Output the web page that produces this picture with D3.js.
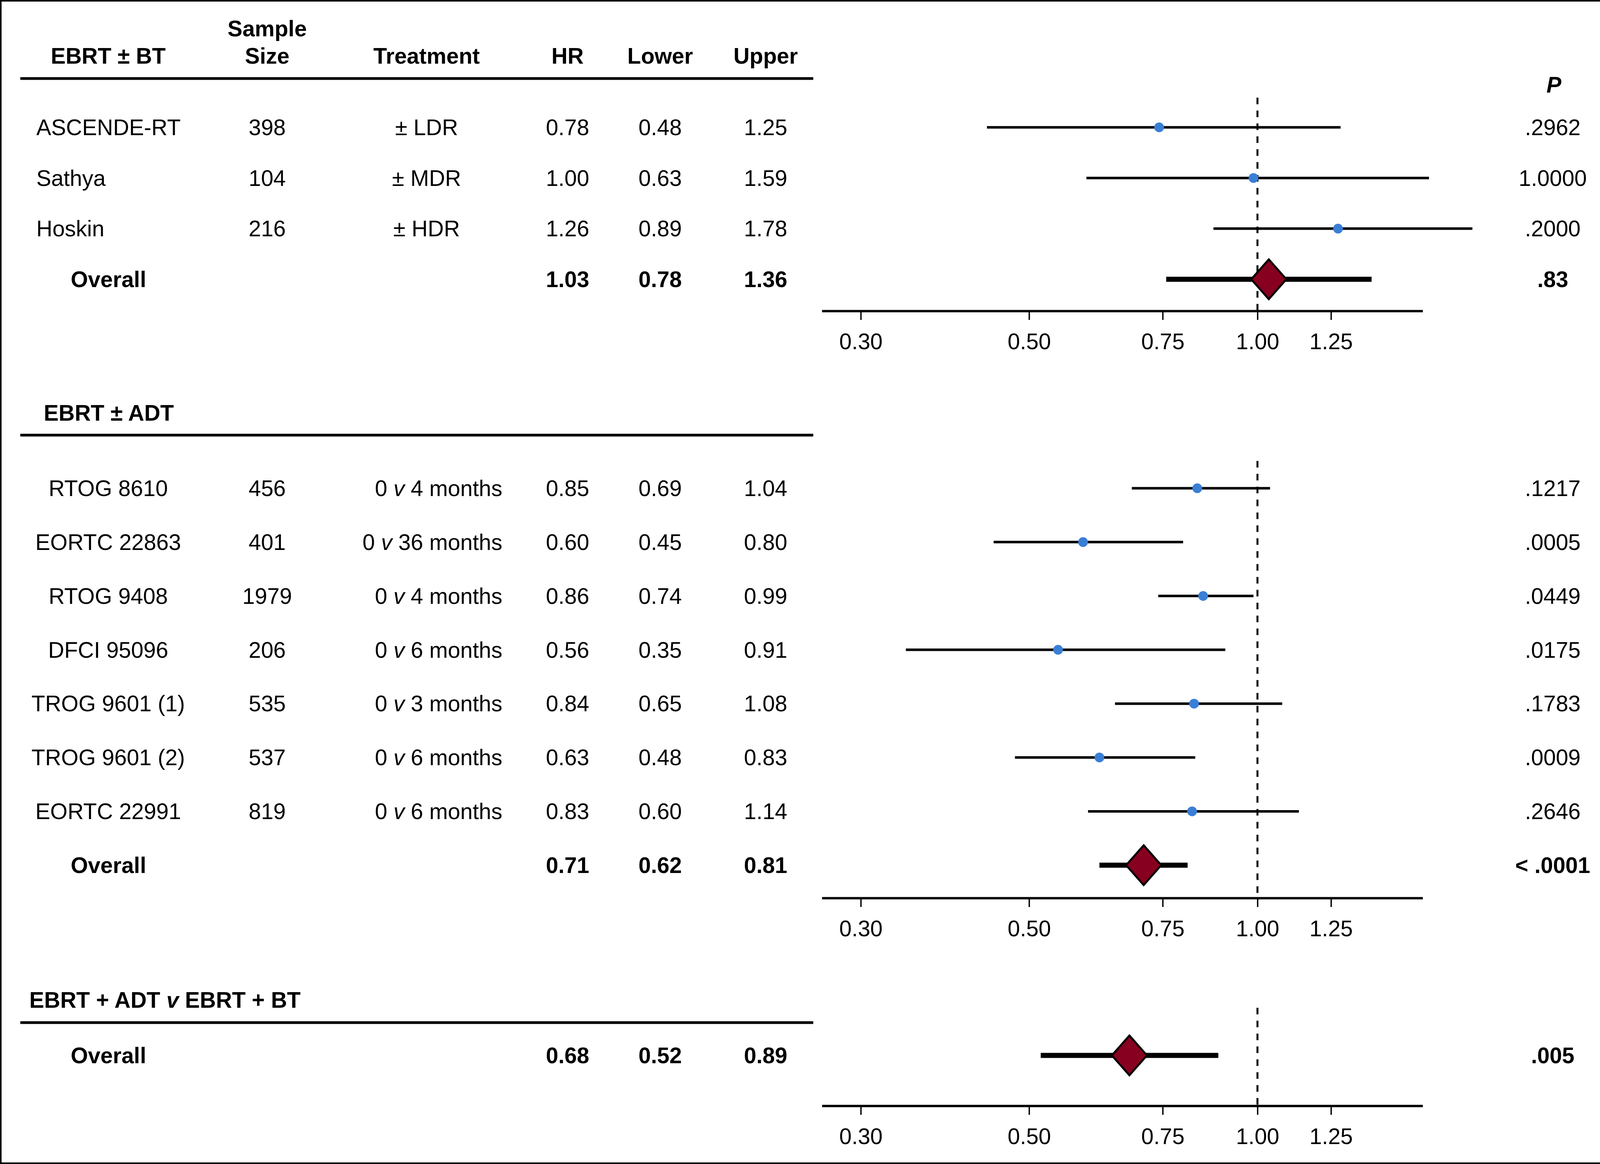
<!DOCTYPE html>
<html>
<head>
<meta charset="utf-8">
<script src="https://cdn.jsdelivr.net/npm/d3@7"></script>
<style>
  html, body { margin: 0; padding: 0; background: #fff; overflow: hidden; }
  #chart-container { width: 4134px; height: 2980px; }
  svg { display: block; }
  svg text { font-family: "Liberation Sans", Arial, Helvetica, sans-serif; fill: #000; }
</style>
</head>
<body>
<div id="chart-container"></div>
<script>
// EBRT ± BT
const btStudies = ["ASCENDE-RT", "Sathya", "Hoskin"];
const btSize = ["398", "104", "216"];
const btTreatment = ["± LDR", "± MDR", "± HDR"];
const btHR = ["0.78", "1.00", "1.26"];
const btLower = ["0.48", "0.63", "0.89"];
const btUpper = ["1.25", "1.59", "1.78"];
const btP = [".2962", "1.0000", ".2000"];
const btOverall = ["1.03", "0.78", "1.36", ".83"];
// where the marks sit in the plot
const btPoint = [0.742, 0.988, 1.277];
const btLow = [0.440, 0.595, 0.875];
const btHigh = [1.287, 1.683, 1.920];
const btOverallPlot = [1.035, 0.758, 1.414];

// EBRT ± ADT
const adtStudies = ["RTOG 8610", "EORTC 22863", "RTOG 9408", "DFCI 95096", "TROG 9601 (1)", "TROG 9601 (2)", "EORTC 22991"];
const adtSize = ["456", "401", "1979", "206", "535", "537", "819"];
const adtTreatment = ["0 v 4 months", "0 v 36 months", "0 v 4 months", "0 v 6 months", "0 v 3 months", "0 v 6 months", "0 v 6 months"];
const adtHR = ["0.85", "0.60", "0.86", "0.56", "0.84", "0.63", "0.83"];
const adtLower = ["0.69", "0.45", "0.74", "0.35", "0.65", "0.48", "0.60"];
const adtUpper = ["1.04", "0.80", "0.99", "0.91", "1.08", "0.83", "1.14"];
const adtP = [".1217", ".0005", ".0449", ".0175", ".1783", ".0009", ".2646"];
const adtOverall = ["0.71", "0.62", "0.81", "< .0001"];
const adtPoint = [0.833, 0.589, 0.848, 0.546, 0.825, 0.619, 0.820];
const adtLow = [0.683, 0.449, 0.740, 0.344, 0.649, 0.479, 0.598];
const adtHigh = [1.039, 0.798, 0.988, 0.907, 1.078, 0.828, 1.134];
const adtOverallPlot = [0.708, 0.619, 0.809];

// EBRT + ADT v EBRT + BT
const cmpOverall = ["0.68", "0.52", "0.89", ".005"];
const cmpOverallPlot = [0.678, 0.518, 0.888];

const tickValues = [0.30, 0.50, 0.75, 1.00, 1.25];

const W = 4134, H = 2980;
const fontSize = 57;
const col = { name: 277, size: 684, treat: 1092, treatEnd: 1286, hr: 1453, lower: 1690, upper: 1960, p: 3975 };

const svg = d3.select("#chart-container")
    .append("svg")
    .attr("width", W)
    .attr("height", H);

svg.append("rect")
    .attr("x", 2).attr("y", 2)
    .attr("width", W - 4).attr("height", H - 4)
    .attr("fill", "#fff")
    .attr("stroke", "#000")
    .attr("stroke-width", 4);

const x = d3.scaleLog().domain([0.2666, 1.651]).range([2104, 3642]);

function txt(g, xPos, yPos, s, anchor, bold) {
    return g.append("text")
        .attr("x", xPos)
        .attr("y", yPos)
        .attr("text-anchor", anchor)
        .style("font-size", fontSize + "px")
        .style("font-weight", bold ? "bold" : "normal")
        .text(s);
}

// text with an italic "v" in the middle
function txtV(g, xPos, yPos, s, anchor, bold) {
    const parts = s.split(" v ");
    const t = g.append("text")
        .attr("x", xPos)
        .attr("y", yPos)
        .attr("text-anchor", anchor)
        .style("font-size", fontSize + "px")
        .style("font-weight", bold ? "bold" : "normal");
    t.append("tspan").text(parts[0] + " ");
    t.append("tspan").style("font-style", "italic").text("v");
    t.append("tspan").text(" " + parts[1]);
    return t;
}

function rule(yPos) {
    svg.append("line")
        .attr("x1", 52).attr("x2", 2082)
        .attr("y1", yPos).attr("y2", yPos)
        .attr("stroke", "#000")
        .attr("stroke-width", 7);
}

function drawAxis(yPos, dashTop) {
    svg.append("line")
        .attr("x1", x(1)).attr("x2", x(1))
        .attr("y1", dashTop).attr("y2", yPos)
        .attr("stroke", "#000")
        .attr("stroke-width", 5)
        .attr("stroke-dasharray", "17,16");

    const ax = svg.append("g")
        .attr("transform", `translate(0,${yPos})`)
        .call(d3.axisBottom(x)
            .tickValues(tickValues)
            .tickFormat(d3.format(".2f"))
            .tickSize(23)
            .tickSizeOuter(0));
    ax.select(".domain").attr("stroke", "#000").attr("stroke-width", 6);
    ax.selectAll(".tick line").attr("stroke", "#000").attr("stroke-width", 3.5);
    ax.selectAll(".tick text")
        .attr("y", 98)
        .attr("dy", 0)
        .attr("fill", "#000")
        .style("font-size", fontSize + "px")
        .style("font-family", '"Liberation Sans", Arial, sans-serif');
}

function drawStudies(yc, point, low, high) {
    const g = svg.append("g");
    g.selectAll(".ci")
        .data(point)
        .enter().append("line")
        .attr("x1", (d, i) => x(low[i]))
        .attr("x2", (d, i) => x(high[i]))
        .attr("y1", (d, i) => yc(i))
        .attr("y2", (d, i) => yc(i))
        .attr("stroke", "#000")
        .attr("stroke-width", 6.5);
    g.selectAll(".pt")
        .data(point)
        .enter().append("circle")
        .attr("cx", d => x(d))
        .attr("cy", (d, i) => yc(i))
        .attr("r", 12.5)
        .attr("fill", "#3a7fd6");
}

function drawOverall(yPos, plot) {
    const [pt, lo, hi] = plot;
    svg.append("line")
        .attr("x1", x(lo)).attr("x2", x(hi))
        .attr("y1", yPos).attr("y2", yPos)
        .attr("stroke", "#000")
        .attr("stroke-width", 13);
    const cx = x(pt), hw = 45, hh = 51;
    svg.append("path")
        .attr("d", `M${cx},${yPos - hh}L${cx + hw},${yPos}L${cx},${yPos + hh}L${cx - hw},${yPos}Z`)
        .attr("fill", "#87001f")
        .attr("stroke", "#000")
        .attr("stroke-width", 5)
        .attr("stroke-linejoin", "miter");
}

function overallRow(g, yPos, vals) {
    const b = yPos + 20;
    txt(g, 181, b, "Overall", "start", true);
    txt(g, col.hr, b, vals[0], "middle", true);
    txt(g, col.lower, b, vals[1], "middle", true);
    txt(g, col.upper, b, vals[2], "middle", true);
    txt(g, col.p, b, vals[3], "middle", true);
}

const table = svg.append("g");

// column headers
txt(table, col.name, 163, "EBRT ± BT", "middle", true);
txt(table, col.size, 93, "Sample", "middle", true);
txt(table, col.size, 163, "Size", "middle", true);
txt(table, col.treat, 163, "Treatment", "middle", true);
txt(table, col.hr, 163, "HR", "middle", true);
txt(table, col.lower, 163, "Lower", "middle", true);
txt(table, col.upper, 163, "Upper", "middle", true);
txt(table, 3978, 237, "P", "middle", true).style("font-style", "italic");
rule(201);

// section 1
const y1 = d3.scaleLinear().domain([0, 3]).range([326, 715]);
btStudies.forEach((s, i) => {
    const b = y1(i) + 20;
    txt(table, 93, b, s, "start", false);
    txt(table, col.size, b, btSize[i], "middle", false);
    txt(table, col.treat, b, btTreatment[i], "middle", false);
    txt(table, col.hr, b, btHR[i], "middle", false);
    txt(table, col.lower, b, btLower[i], "middle", false);
    txt(table, col.upper, b, btUpper[i], "middle", false);
    txt(table, col.p, b, btP[i], "middle", false);
});
overallRow(table, y1(3), btOverall);
drawAxis(796, 250);
drawStudies(y1, btPoint, btLow, btHigh);
drawOverall(y1(3), btOverallPlot);

// section 2
txt(table, 112, 1077, "EBRT ± ADT", "start", true);
rule(1114);
const y2 = d3.scaleLinear().domain([0, 7]).range([1250, 2215]);
adtStudies.forEach((s, i) => {
    const b = y2(i) + 20;
    txt(table, col.name, b, s, "middle", false);
    txt(table, col.size, b, adtSize[i], "middle", false);
    txtV(table, col.treatEnd, b, adtTreatment[i], "end", false);
    txt(table, col.hr, b, adtHR[i], "middle", false);
    txt(table, col.lower, b, adtLower[i], "middle", false);
    txt(table, col.upper, b, adtUpper[i], "middle", false);
    txt(table, col.p, b, adtP[i], "middle", false);
});
overallRow(table, y2(7), adtOverall);
drawAxis(2299, 1180);
drawStudies(y2, adtPoint, adtLow, adtHigh);
drawOverall(y2(7), adtOverallPlot);

// section 3
txtV(table, 75, 2580, "EBRT + ADT v EBRT + BT", "start", true);
rule(2618);
overallRow(table, 2702, cmpOverall);
drawAxis(2831, 2580);
drawOverall(2702, cmpOverallPlot);
</script>
</body>
</html>
